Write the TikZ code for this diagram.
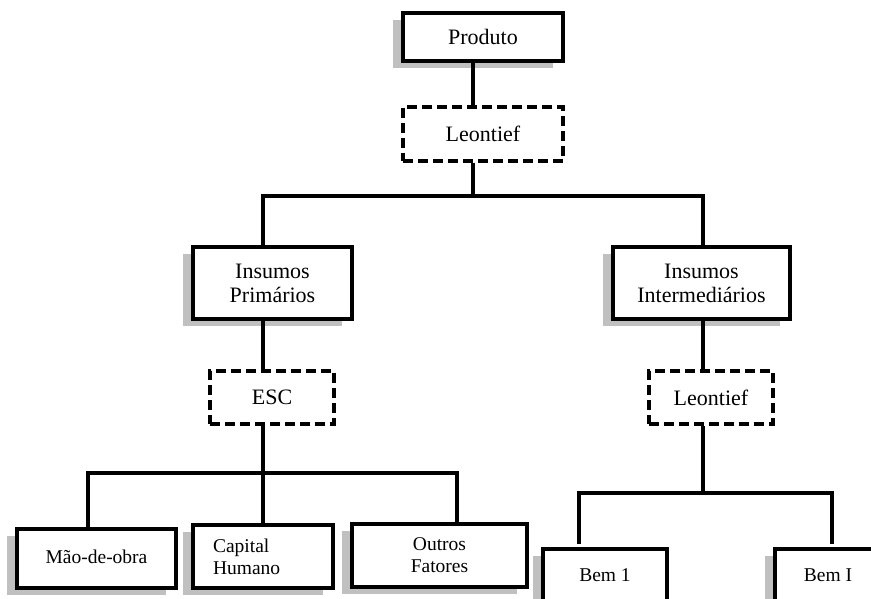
\documentclass[tikz,border=0pt]{standalone}
\usepackage{fontspec}
\setmainfont{Liberation Serif}
\usetikzlibrary{shadows}

\begin{document}
\begin{tikzpicture}[x=1pt,y=-1pt,line width=3.3pt,
  mybox/.style={draw,fill=white,inner sep=2pt,align=center,font=\fontsize{22}{24}\selectfont,
    drop shadow={shadow xshift=-10pt,shadow yshift=-7pt,opacity=1,fill=shadowgray}},
  dashbox/.style={draw,fill=white,dash pattern=on 10pt off 5pt,inner sep=2pt,align=center,font=\fontsize{22}{24}\selectfont},
  smallbox/.style={mybox,font=\fontsize{19.5}{22}\selectfont}]
\definecolor{shadowgray}{HTML}{C0C0C0}
\useasboundingbox (0,0) rectangle (871,599);
\clip (0,0) rectangle (871,599);
% top
\node[mybox,minimum width=160pt,minimum height=48pt] (prod) at (483,37) {Produto};
\node[dashbox,minimum width=160pt,minimum height=54pt] (leo) at (483,134) {Leontief};
% middle
\node[mybox,minimum width=159pt,minimum height=72pt] (prim) at (272.5,283) {Insumos\\Primários};
\node[mybox,minimum width=177pt,minimum height=72pt] (inter) at (701.5,283) {Insumos\\Intermediários};
\node[dashbox,minimum width=124pt,minimum height=53pt] (esc) at (272,397.5) {ESC};
\node[dashbox,minimum width=124pt,minimum height=53pt] (leob) at (711,397.5) {Leontief};
% bottom
\node[smallbox,minimum width=159pt,minimum height=59pt] (mao) at (96.5,558.5) {\raisebox{3pt}{Mão-de-obra}};
\node[smallbox,minimum width=140pt,minimum height=63pt,text width=100pt,align=left] (cap) at (263,556.5) {Capital\\Humano};
\node[smallbox,minimum width=175pt,minimum height=63pt] (out) at (439.5,555.5) {Outros\\Fatores};
\node[smallbox,minimum width=124pt,minimum height=56pt] (bem1) at (605,577) {\raisebox{4pt}{Bem 1}};
\node[smallbox,minimum width=106pt,minimum height=56pt] (bemI) at (828,577) {\raisebox{4pt}{Bem I}};
% connectors
\coordinate (top) at (473,196);
\coordinate (left) at (263,473);
\coordinate (right) at (703,493);
\draw ([xshift=-10pt]prod.south) -- ([xshift=-10pt]leo.north);
\draw ([xshift=-10pt]leo.south) -- (top);
\draw ([xshift=-9.5pt]prim.north) |- (top) -| ([xshift=1.5pt]inter.north);
\draw ([xshift=-9.5pt]prim.south) -- ([xshift=-9pt]esc.north);
\draw ([xshift=1.5pt]inter.south) -- ([xshift=-8pt]leob.north);
\draw ([xshift=-9pt]esc.south) -- (left);
\draw ([xshift=-8.5pt]mao.north) |- (left) -| ([xshift=17.5pt]out.north);
\draw (cap.north) -- (left);
\draw ([xshift=-8pt]leob.south) -- (right);
\draw[shorten <=3pt,shorten >=3pt] ([xshift=-26pt]bem1.north) |- (right) -| ([xshift=4pt]bemI.north);
\end{tikzpicture}
\end{document}
